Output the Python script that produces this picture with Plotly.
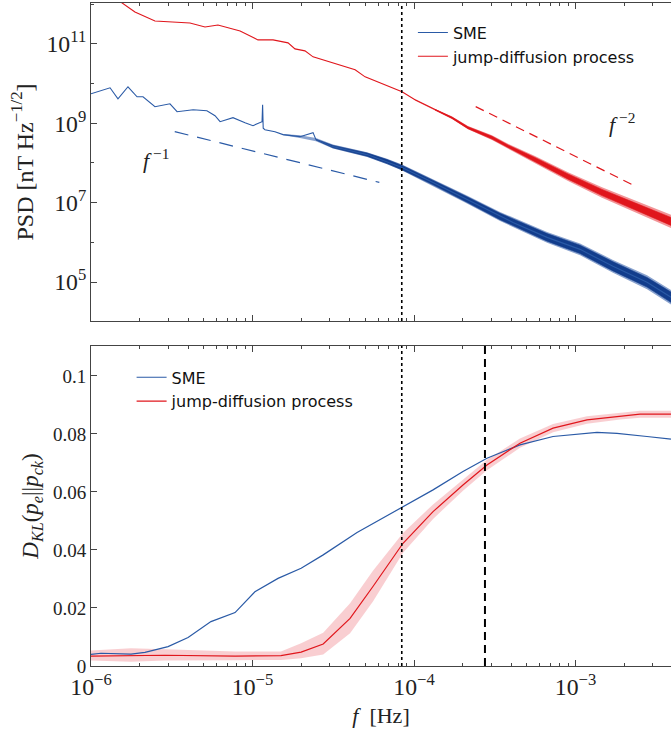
import plotly.graph_objects as go

# ---------------- top panel: PSD ----------------
sme_psd_f = [1.000e-6, 1.138e-6, 1.312e-6, 1.469e-6, 1.694e-6, 1.928e-6, 2.099e-6, 2.489e-6,
             3.083e-6, 3.412e-6, 4.29e-6, 5.22e-6, 5.86e-6, 6.30e-6, 7.57e-6, 8.99e-6,
             1.007e-5, 1.146e-5, 1.155e-5, 1.165e-5, 1.194e-5, 1.377e-5, 1.545e-5, 1.968e-5,
             2.371e-5, 2.472e-5, 3.148e-5, 5.12e-5, 6.81e-5, 8.43e-5, 1.312e-4, 2.128e-4,
             3.41e-4, 4.10e-4, 6.67e-4, 1.067e-3, 1.706e-3, 2.773e-3, 3.90e-3]
sme_psd = [5.55e9, 6.59e9, 7.83e9, 4.15e9, 8.32e9, 4.66e9, 4.66e9, 2.61e9,
           3.10e9, 1.954e9, 2.20e9, 2.07e9, 1.552e9, 1.096e9, 1.384e9, 1.035e9,
           8.71e8, 1.096e9, 2.93e9, 7.5e8, 6.90e8, 6.15e8, 5.18e8, 4.60e8,
           5.81e8, 3.87e8, 2.58e8, 1.626e8, 1.084e8, 7.66e7, 3.22e7, 1.202e7,
           4.50e6, 3.18e6, 1.337e6, 6.67e5, 2.49e5, 9.89e4, 4.15e4]
# noisy envelope of the SME spectrum: outer spikes and dense core
sme_band_f = [1.545e-5, 1.968e-5, 2.472e-5, 3.148e-5, 5.12e-5, 6.81e-5, 8.43e-5, 1.312e-4, 2.128e-4,
              3.41e-4, 4.10e-4, 6.67e-4, 1.067e-3, 1.706e-3, 2.773e-3, 3.90e-3]
sme_band_lo = [5.0e8, 4.25e8, 3.53e8, 2.30e8, 1.416e8, 9.23e7, 6.44e7, 2.65e7, 9.55e6,
               3.45e6, 2.42e6, 9.79e5, 4.72e5, 1.726e5, 6.61e4, 2.71e4]
sme_band_hi = [5.4e8, 5.0e8, 4.25e8, 2.90e8, 1.866e8, 1.274e8, 9.10e7, 3.92e7, 1.514e7,
               5.86e6, 4.20e6, 1.824e6, 9.42e5, 3.61e5, 1.479e5, 6.35e4]
sme_core_f = [2.472e-5, 3.148e-5, 5.12e-5, 6.81e-5, 8.43e-5, 1.312e-4, 2.128e-4,
              3.41e-4, 4.10e-4, 6.67e-4, 1.067e-3, 1.706e-3, 2.773e-3, 3.90e-3]
sme_core_lo = [3.80e8, 2.41e8, 1.483e8, 9.66e7, 6.75e7, 2.81e7, 1.023e7,
               3.74e6, 2.62e6, 1.074e6, 5.24e5, 1.914e5, 7.50e4, 3.08e4]
sme_core_hi = [3.95e8, 2.77e8, 1.782e8, 1.216e8, 8.69e7, 3.70e7, 1.413e7,
               5.41e6, 3.87e6, 1.663e6, 8.49e5, 3.25e5, 1.303e5, 5.60e4]

jd_psd_f = [1.469e-6, 1.871e-6, 2.489e-6, 3.311e-6, 4.10e-6, 5.08e-6, 6.11e-6, 8.38e-6,
            1.081e-5, 1.340e-5, 1.660e-5, 1.832e-5, 2.113e-5, 2.371e-5, 3.148e-5, 3.74e-5,
            4.32e-5, 4.98e-5, 5.98e-5, 7.41e-5, 8.43e-5, 1.014e-4, 1.349e-4, 1.718e-4,
            2.158e-4, 3.04e-4, 3.82e-4, 5.61e-4, 8.99e-4, 1.459e-3, 2.333e-3, 3.90e-3]
jd_psd = [1.27e12, 6.37e11, 3.78e11, 3.57e11, 3.37e11, 2.67e11, 3.00e11, 2.12e11,
          1.26e11, 1.26e11, 1.06e11, 7.48e10, 6.67e10, 4.71e10, 3.33e10, 2.64e10,
          2.22e10, 1.48e10, 1.11e10, 7.83e9, 6.22e9, 3.92e9, 2.20e9, 1.38e9,
          7.74e8, 4.35e8, 2.58e8, 1.22e8, 4.55e7, 1.80e7, 8.04e6, 3.37e6]
jd_band_f = [1.014e-4, 1.349e-4, 1.718e-4, 2.158e-4, 3.04e-4, 3.82e-4, 5.61e-4, 8.99e-4,
             1.459e-3, 2.333e-3, 3.90e-3]
jd_band_lo = [3.75e9, 2.10e9, 1.291e9, 7.06e8, 3.78e8, 2.20e8, 9.89e7, 3.53e7, 1.337e7, 5.69e6, 2.31e6]
jd_band_hi = [4.10e9, 2.30e9, 1.483e9, 8.49e8, 4.99e8, 3.03e8, 1.496e8, 5.86e7, 2.43e7, 1.135e7, 4.93e6]
jd_core_f = [1.349e-4, 1.718e-4, 2.158e-4, 3.04e-4, 3.82e-4, 5.61e-4, 8.99e-4,
             1.459e-3, 2.333e-3, 3.90e-3]
jd_core_lo = [2.16e9, 1.327e9, 7.33e8, 4.00e8, 2.34e8, 1.074e8, 3.91e7, 1.507e7, 6.53e6, 2.68e6]
jd_core_hi = [2.24e9, 1.442e9, 8.18e8, 4.72e8, 2.84e8, 1.377e8, 5.30e7, 2.16e7, 9.89e6, 4.25e6]

# power-law guide lines
guide1_f = [3.3e-6, 6.1e-5]
guide1_psd = [6.17e8, 3.24e7]
guide2_f = [2.41e-4, 2.23e-3]
guide2_psd = [2.63e9, 2.88e7]

# ---------------- bottom panel: D_KL ----------------
sme_dkl_f = [1.00e-6, 1.153e-6, 1.770e-6, 2.158e-6, 3.00e-6, 3.99e-6, 5.53e-6, 7.80e-6,
             1.035e-5, 1.439e-5, 2.00e-5, 2.74e-5, 4.44e-5, 8.55e-5, 1.312e-4, 2.01e-4,
             2.83e-4, 4.53e-4, 7.26e-4, 1.358e-3, 1.807e-3, 2.77e-3, 3.90e-3]
sme_dkl = [0.0040, 0.0044, 0.0041, 0.0047, 0.0067, 0.0098, 0.0153, 0.0184,
           0.0256, 0.0302, 0.0337, 0.0383, 0.0460, 0.0549, 0.0607, 0.0670,
           0.0716, 0.0762, 0.0791, 0.0805, 0.0802, 0.0791, 0.0782]

jd_dkl_f = [1.00e-6, 1.770e-6, 2.87e-6, 7.80e-6, 1.500e-5, 2.00e-5, 2.74e-5, 4.02e-5,
            5.57e-5, 8.55e-5, 1.312e-4, 2.01e-4, 2.83e-4, 4.53e-4, 7.26e-4, 1.178e-3,
            1.888e-3, 2.51e-3, 3.90e-3]
jd_dkl = [0.0034, 0.0035, 0.0037, 0.0034, 0.0036, 0.0048, 0.0076, 0.0164,
          0.0274, 0.0423, 0.0532, 0.0624, 0.0693, 0.0768, 0.0820, 0.0848,
          0.0862, 0.0868, 0.0868]
jd_dkl_lo = [0.0019, 0.0015, 0.0019, 0.0020, 0.0021, 0.0027, 0.0040, 0.0113,
             0.0222, 0.0390, 0.0507, 0.0604, 0.0675, 0.0752, 0.0806, 0.0835,
             0.0850, 0.0856, 0.0856]
jd_dkl_hi = [0.0053, 0.0061, 0.0058, 0.0050, 0.0050, 0.0078, 0.0115, 0.0216,
             0.0328, 0.0458, 0.0557, 0.0644, 0.0711, 0.0784, 0.0834, 0.0861,
             0.0874, 0.0880, 0.0880]

# vertical markers
f_dotted = 8.4e-5
f_dashed = 2.75e-4

BLUE = "#123d8c"
BLUE_L = "#2a5aa6"
RED = "#e0161c"
RED_BAND = "rgba(232,80,90,0.28)"
AXC = "#444444"
TXT = "#222222"
SERIF = "Liberation Serif"
SANS = "DejaVu Sans"

fig = go.Figure()


def band(fx, lo, hi, color, xa, ya, width=0.0):
    return go.Scatter(x=fx + fx[::-1], y=hi + lo[::-1], fill="toself", fillcolor=color,
                      line=dict(color=color, width=width), mode="lines", showlegend=False,
                      hoverinfo="skip", xaxis=xa, yaxis=ya)


# top panel traces
fig.add_trace(band(sme_band_f, sme_band_lo, sme_band_hi, "rgba(40,85,165,0.55)", "x", "y"))
fig.add_trace(band(sme_core_f, sme_core_lo, sme_core_hi, BLUE, "x", "y", 0.6))
fig.add_trace(band(jd_band_f, jd_band_lo, jd_band_hi, "rgba(232,60,66,0.55)", "x", "y"))
fig.add_trace(band(jd_core_f, jd_core_lo, jd_core_hi, RED, "x", "y", 0.6))
fig.add_trace(go.Scatter(x=sme_psd_f, y=sme_psd, mode="lines", name="SME",
                         line=dict(color=BLUE_L, width=1.1), legend="legend", xaxis="x", yaxis="y"))
fig.add_trace(go.Scatter(x=jd_psd_f, y=jd_psd, mode="lines", name="jump-diffusion process",
                         line=dict(color=RED, width=1.1), legend="legend", xaxis="x", yaxis="y"))
fig.add_trace(go.Scatter(x=guide1_f, y=guide1_psd, mode="lines", showlegend=False,
                         line=dict(color=BLUE_L, width=1.2, dash="14px,9px"), xaxis="x", yaxis="y"))
fig.add_trace(go.Scatter(x=guide2_f, y=guide2_psd, mode="lines", showlegend=False,
                         line=dict(color=RED, width=1.2, dash="9px,6px"), xaxis="x", yaxis="y"))

# bottom panel traces
fig.add_trace(band(jd_dkl_f, jd_dkl_lo, jd_dkl_hi, RED_BAND, "x2", "y2"))
fig.add_trace(go.Scatter(x=sme_dkl_f, y=sme_dkl, mode="lines", name="SME",
                         line=dict(color=BLUE_L, width=1.2), legend="legend2", xaxis="x2", yaxis="y2"))
fig.add_trace(go.Scatter(x=jd_dkl_f, y=jd_dkl, mode="lines", name="jump-diffusion process",
                         line=dict(color=RED, width=1.2), legend="legend2", xaxis="x2", yaxis="y2"))

# vertical reference lines
shapes = [
    dict(type="line", xref="x", yref="y domain", x0=f_dotted, x1=f_dotted, y0=0, y1=1,
         line=dict(color="black", width=1.6, dash="dot")),
    dict(type="line", xref="x2", yref="y2 domain", x0=f_dotted, x1=f_dotted, y0=0, y1=1,
         line=dict(color="black", width=1.6, dash="dot")),
    dict(type="line", xref="x2", yref="y2 domain", x0=f_dashed, x1=f_dashed, y0=0, y1=1,
         line=dict(color="black", width=2, dash="8px,5px")),
]

xrange = [-6, -2.4087]
common_x = dict(type="log", range=xrange, showgrid=False, zeroline=False,
                showline=True, linecolor=AXC, linewidth=1, mirror="allticks",
                ticks="inside", ticklen=6, tickcolor=AXC, dtick=1,
                minor=dict(ticks="inside", ticklen=3, tickcolor=AXC),
                exponentformat="power", tickfont=dict(family=SERIF, size=19, color=TXT))

fig.update_layout(
    width=671, height=734,
    margin=dict(l=91, r=0, t=3, b=68),
    paper_bgcolor="white", plot_bgcolor="white",
    shapes=shapes,
    xaxis=dict(**common_x, domain=[0, 1], anchor="y", showticklabels=False),
    yaxis=dict(type="log", range=[4.02, 12.03], domain=[0.5204, 1.0], anchor="x",
               showgrid=False, zeroline=False, showline=True, linecolor=AXC, linewidth=1,
               ticks="inside", ticklen=6, tickcolor=AXC, dtick=2, tick0=1,
               minor=dict(ticks="inside", ticklen=3, tickcolor=AXC),
               exponentformat="power", tickfont=dict(family=SERIF, size=19, color=TXT),
               title=dict(text="PSD [nT Hz<sup>−1/2</sup>]", font=dict(family=SERIF, size=24, color=TXT),
                          standoff=6)),
    xaxis2=dict(**common_x, domain=[0, 1], anchor="y2",
                title=dict(text="<i>f</i>  [Hz]", font=dict(family=SERIF, size=22, color=TXT), standoff=9)),
    yaxis2=dict(range=[0, 0.1103], domain=[0, 0.4827], anchor="x2",
                showgrid=False, zeroline=False, showline=True, linecolor=AXC, linewidth=1,
                ticks="inside", ticklen=6, tickcolor=AXC,
                tickvals=[0, 0.02, 0.04, 0.06, 0.08, 0.1], ticktext=["0", "0.02", "0.04", "0.06", "0.08", "0.1"],
                tickfont=dict(family=SERIF, size=19, color=TXT),
                title=dict(text="<i>D</i><sub><i>KL</i></sub>(<i>p</i><sub><i>e</i></sub>||<i>p</i><sub><i>ck</i></sub>)",
                           font=dict(family=SERIF, size=23, color=TXT), standoff=7)),
    legend=dict(x=0.555, y=0.981, xanchor="left", yanchor="top", bgcolor="rgba(0,0,0,0)",
                font=dict(family=SANS, size=16, color="#111"), tracegroupgap=0),
    legend2=dict(x=0.07, y=0.461, xanchor="left", yanchor="top", bgcolor="rgba(0,0,0,0)",
                 font=dict(family=SANS, size=16, color="#111"), tracegroupgap=0),
    annotations=[
        dict(xref="x", yref="y", x=-5.6, y=8.1, text="<i>f</i><sup> −1</sup>", showarrow=False,
             font=dict(family=SERIF, size=22, color=TXT)),
        dict(xref="x", yref="y", x=-2.71, y=9.0, text="<i>f</i><sup> −2</sup>", showarrow=False,
             font=dict(family=SERIF, size=22, color=TXT)),
    ],
)

fig.write_html("out.html", config={"displayModeBar": False},
               post_script="document.body.style.margin='0px';")
